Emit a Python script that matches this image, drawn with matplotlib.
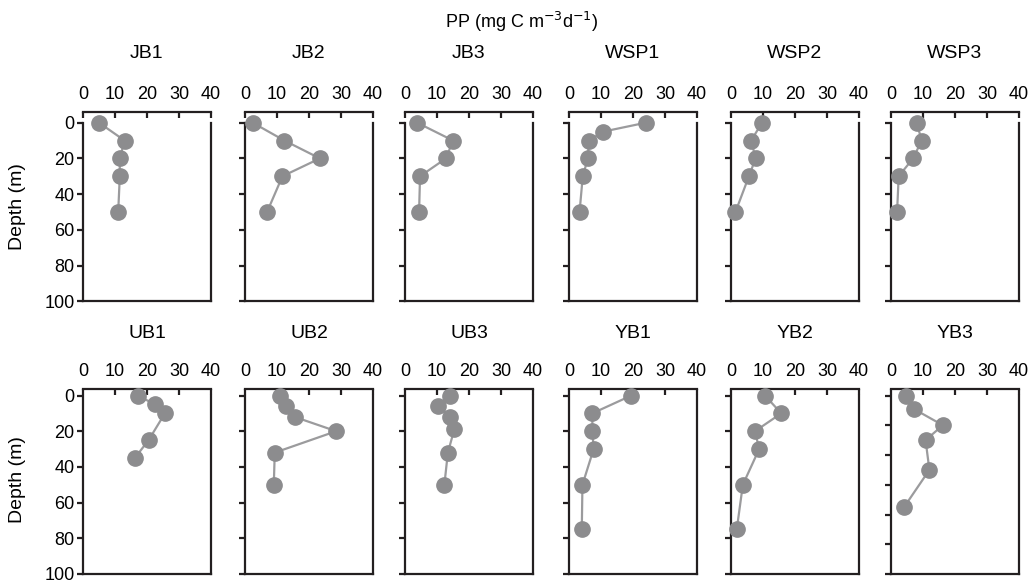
import matplotlib
matplotlib.use("Agg")
import matplotlib.pyplot as plt

plt.rcParams["font.family"] = ["Liberation Sans", "DejaVu Sans"]

# stations, PP (mg C m-3 d-1) and sampling depth (m)
stations = ["JB1", "JB2", "JB3", "WSP1", "WSP2", "WSP3",
            "UB1", "UB2", "UB3", "YB1", "YB2", "YB3"]

jb1_pp = [5, 13, 11.5, 11.5, 11]
jb1_depth = [0, 10, 20, 30, 50]
jb2_pp = [2.4, 12.3, 23.4, 11.7, 6.9]
jb2_depth = [0, 10, 20, 30, 50]
jb3_pp = [3.8, 15, 12.8, 4.7, 4.4]
jb3_depth = [0, 10, 20, 30, 50]
wsp1_pp = [24, 10.7, 6.2, 5.9, 4.3, 3.3]
wsp1_depth = [0, 5, 10, 20, 30, 50]
wsp2_pp = [9.7, 6.3, 7.7, 5.6, 1.4]
wsp2_depth = [0, 10, 20, 30, 50]
wsp3_pp = [8, 9.6, 6.9, 2.4, 1.9]
wsp3_depth = [0, 10, 20, 30, 50]

ub1_pp = [17.2, 22.4, 25.6, 20.5, 16.2]
ub1_depth = [0, 5, 10, 25, 35]
ub2_pp = [10.8, 12.7, 15.5, 28.5, 9.3, 9]
ub2_depth = [0, 6, 12, 20, 32, 50]
ub3_pp = [14, 10.4, 14.2, 15.4, 13.4, 12.3]
ub3_depth = [0, 6, 12, 19, 32, 50]
yb1_pp = [19.5, 7.3, 7.3, 7.7, 4.2, 4]
yb1_depth = [0, 10, 20, 30, 50, 75]
yb2_pp = [10.6, 15.7, 7.5, 8.8, 3.7, 1.8]
yb2_depth = [0, 10, 20, 30, 50, 75]
yb3_pp = [4.7, 7.1, 16.2, 10.8, 12, 4.1]
yb3_depth = [0, 9, 20, 30, 50, 75]

depth_max = [100] * 11 + [120]

pp_all = [jb1_pp, jb2_pp, jb3_pp, wsp1_pp, wsp2_pp, wsp3_pp,
          ub1_pp, ub2_pp, ub3_pp, yb1_pp, yb2_pp, yb3_pp]
depth_all = [jb1_depth, jb2_depth, jb3_depth, wsp1_depth, wsp2_depth, wsp3_depth,
             ub1_depth, ub2_depth, ub3_depth, yb1_depth, yb2_depth, yb3_depth]

W, H = 1033, 580
fig = plt.figure(figsize=(W / 100, H / 100), dpi=100)

col_left = [83, 245, 405, 569, 731, 891]
panel_w = 128
row_top = [122.7, 395.5]
panel_h = 178.5
spine_offset = [8, 5]

dark = "#231f20"
marker_c = "#8c8c8e"
line_c = "#9b9b9d"

for i, name in enumerate(stations):
    r, c = divmod(i, 6)
    ax = fig.add_axes([col_left[c] / W, 1 - (row_top[r] + panel_h) / H,
                       panel_w / W, panel_h / H])
    ax.plot(pp_all[i], depth_all[i], color=line_c, lw=1.6,
            marker="o", ms=11, mfc=marker_c, mec=marker_c, clip_on=False, zorder=3)
    ax.set_xlim(0, 40)
    ax.set_ylim(depth_max[i], 0)
    ax.set_xticks([0, 10, 20, 30, 40])
    ax.set_yticks(range(0, depth_max[i] + 1, 20))
    ax.xaxis.tick_top()
    ax.spines["top"].set_position(("outward", spine_offset[r]))
    for s in ax.spines.values():
        s.set_linewidth(1.6)
        s.set_color(dark)
    ax.tick_params(axis="x", direction="in", length=4, width=1.6, color=dark,
                   labelsize=13, pad=6)
    ax.tick_params(axis="y", direction="out", length=4, width=1.6, color=dark,
                   labelsize=13, pad=2, right=False)
    if c != 0:
        ax.set_yticklabels([])
    ax.text(0.5, 1 + (row_top[r] - [53, 334][r]) / panel_h, name,
            transform=ax.transAxes, ha="center", va="center", fontsize=14)

for r in range(2):
    fig.text(18 / W, 1 - (row_top[r] + panel_h / 2 - 5) / H, "Depth (m)",
             rotation=90, ha="center", va="center", fontsize=14)

fig.text(522 / W, 1 - 22 / H, r"PP (mg C m$^{-3}$d$^{-1}$)",
         ha="center", va="center", fontsize=13)

fig.savefig("out.png", dpi=100)
